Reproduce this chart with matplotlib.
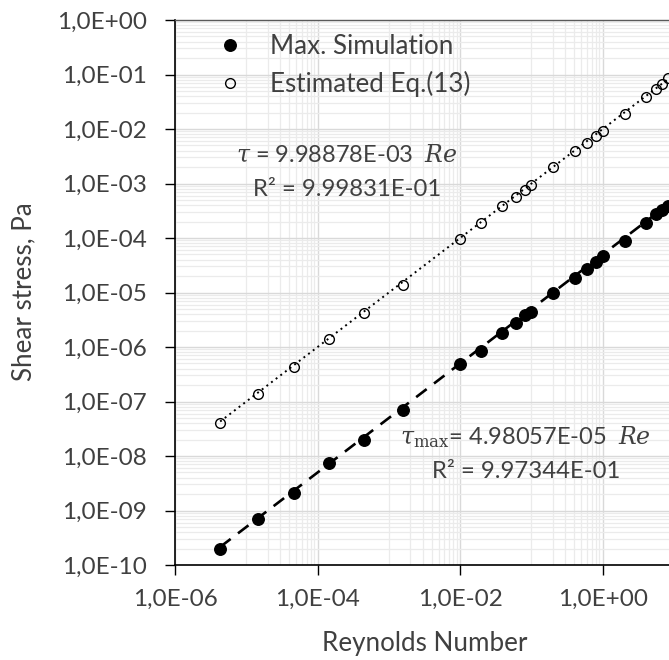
import matplotlib
matplotlib.use("Agg")
import matplotlib.pyplot as plt
import numpy as np
from matplotlib.ticker import FixedLocator, FuncFormatter, LogLocator, NullFormatter

# ---- data ----
re_num = [4.3e-6, 1.48e-5, 4.6e-5, 1.47e-4, 4.5e-4, 1.56e-3, 1.0e-2, 1.95e-2, 3.9e-2,
          6.0e-2, 8.0e-2, 1.0e-1, 2.0e-1, 4.1e-1, 6.0e-1, 8.1e-1, 1.0, 2.05, 4.0, 5.6, 6.8, 8.3]
tau_est = [4.0e-8, 1.37e-7, 4.3e-7, 1.43e-6, 4.2e-6, 1.4e-5, 9.6e-5, 1.85e-4, 3.85e-4,
           5.7e-4, 7.5e-4, 9.5e-4, 1.98e-3, 3.9e-3, 5.6e-3, 7.5e-3, 9.3e-3, 1.9e-2, 3.9e-2,
           5.5e-2, 6.7e-2, 8.5e-2]
tau_sim = [2.0e-10, 6.9e-10, 2.1e-9, 7.3e-9, 2.0e-8, 7.0e-8, 4.9e-7, 8.6e-7, 1.8e-6,
           2.7e-6, 3.9e-6, 4.4e-6, 9.7e-6, 1.85e-5, 2.7e-5, 3.7e-5, 4.7e-5, 8.9e-5, 1.86e-4,
           2.8e-4, 3.3e-4, 3.9e-4]
coef_est = 9.98878e-03
coef_sim = 4.98057e-05
r2_est = "9.99831E-01"
r2_sim = "9.97344E-01"
legend_labels = ["Max. Simulation", "Estimated Eq.(13)"]
x_label = "Reynolds Number"
y_label = "Shear stress, Pa"

plt.rcParams['font.family'] = ['Lato', 'DejaVu Sans']
plt.rcParams['mathtext.fontset'] = 'custom'
plt.rcParams['mathtext.rm'] = 'DejaVu Serif'
plt.rcParams['mathtext.it'] = 'DejaVu Serif:italic'

W, H = 669, 660
fig = plt.figure(figsize=(W / 100, H / 100), dpi=100)
x0, x1, y0, y1 = 175, 674, 20, 565
ax = fig.add_axes([x0 / W, 1 - y1 / H, (x1 - x0) / W, (y1 - y0) / H])
ax.set_xscale('log')
ax.set_yscale('log')
ax.set_xlim(1e-6, 1e1)
ax.set_ylim(1e-10, 1e0)

txt = '#404040'
TFS = 17.5   # tick labels
LFS = 18.75  # legend / axis titles
EFS = 17.0   # equations
fmt = FuncFormatter(lambda v, p: f"{v:.1E}".replace('.', ','))
ax.xaxis.set_major_locator(FixedLocator([1e-6, 1e-4, 1e-2, 1e0]))
ax.xaxis.set_minor_locator(FixedLocator([k * 10.0 ** e for e in (-5, -3, -1) for k in range(1, 10)]))
ax.xaxis.set_major_formatter(fmt)
ax.xaxis.set_minor_formatter(NullFormatter())
ax.yaxis.set_major_locator(FixedLocator([10.0 ** k for k in range(-10, 1)]))
ax.yaxis.set_minor_locator(LogLocator(base=10, subs=np.arange(2, 10), numticks=100))
ax.yaxis.set_major_formatter(fmt)
ax.yaxis.set_minor_formatter(NullFormatter())

ax.grid(which='major', color='#d9d9d9', lw=1.0)
ax.grid(which='minor', color='#ebebeb', lw=0.9)
ax.set_axisbelow(True)

ax.tick_params(which='major', direction='out', length=7, width=1.0, color='black',
               labelsize=TFS, labelcolor=txt)
ax.tick_params(axis='y', which='major', pad=13)
ax.tick_params(axis='x', which='major', pad=10)
ax.tick_params(which='minor', length=0)
for s in ('left', 'bottom'):
    ax.spines[s].set_color('black')
    ax.spines[s].set_linewidth(1.2)
ax.spines['top'].set_color('#595959')
ax.spines['top'].set_linewidth(1.0)
ax.spines['right'].set_visible(False)

# trend lines
re_arr = np.array(re_num)
xr = np.array([re_arr.min(), re_arr.max()])
ax.plot(xr, coef_sim * xr, color='black', lw=1.9, ls=(0, (5, 3.5)), zorder=2)
ax.plot(xr, coef_est * xr, color='black', lw=1.4, ls=(0, (1, 2)), zorder=2)

# data
ax.plot(re_num, tau_sim, 'o', ms=8.3, color='black', zorder=3, label=legend_labels[0])
ax.plot(re_num, tau_est, 'o', ms=7, mfc='none', mec='black', mew=1.0, zorder=3,
        label=legend_labels[1])

leg = ax.legend(loc='upper left', bbox_to_anchor=(0.084, 0.975), frameon=False,
                fontsize=LFS, handlelength=1.0, handletextpad=1.04, labelspacing=0.48,
                borderpad=0, borderaxespad=0)
for t in leg.get_texts():
    t.set_color(txt)

# equations
def px(xp, yp):
    return xp / W, 1 - yp / H

fig.text(*px(347, 155), r"$\tau$ = " + f"{coef_est:.5E}" + r"  $Re$", ha='center', va='center',
         fontsize=EFS, color=txt)
fig.text(*px(347, 189), "R² = " + r2_est, ha='center', va='center', fontsize=17.2, color=txt)
fig.text(*px(525, 437), r"$\tau_{\mathrm{max}}$= " + f"{coef_sim:.5E}" + r"  $Re$", ha='center',
         va='center', fontsize=EFS, color=txt)
fig.text(*px(526, 472), "R² = " + r2_sim, ha='center', va='center', fontsize=17.2, color=txt)

fig.text(*px(425, 644), x_label, ha='center', va='center', fontsize=LFS, color=txt)
fig.text(*px(24, 292), y_label, ha='center', va='center', rotation=90, fontsize=LFS, color=txt)

fig.savefig('out.png', dpi=100)
